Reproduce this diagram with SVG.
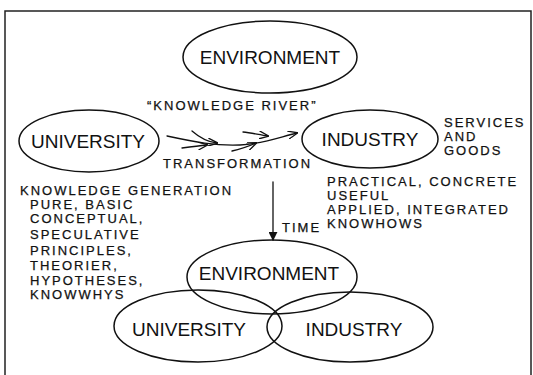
<svg xmlns="http://www.w3.org/2000/svg" width="533" height="375" viewBox="0 0 533 375">
  <defs>
    <style>
      .frame { fill: none; stroke: #222; stroke-width: 1.5; }
      .node { fill: none; stroke: #111; stroke-width: 1.5; }
      .label { font-family: "Liberation Sans", Arial, sans-serif; font-size: 19px; fill: #111; text-anchor: middle; }
      .txt { font-family: "Liberation Sans", Arial, sans-serif; font-size: 13px; letter-spacing: 2px; fill: #111; stroke: #111; stroke-width: 0.25; }
      .flow { fill: none; stroke: #111; stroke-width: 1.3; stroke-linecap: round; }
    </style>
    <marker id="vee" viewBox="0 0 10 8" refX="9" refY="4" markerWidth="10" markerHeight="8" markerUnits="userSpaceOnUse" orient="auto">
      <path d="M0,0 L10,4 L0,8" fill="none" stroke="#111" stroke-width="1.3"/>
    </marker>
    <marker id="head" viewBox="0 0 10 10" refX="9" refY="5" markerWidth="9" markerHeight="9" markerUnits="userSpaceOnUse" orient="auto">
      <path d="M0,0 L10,5 L0,10 Z" fill="#111"/>
    </marker>
  </defs>

  <rect width="533" height="375" fill="#fff"/>
  <!-- outer frame (open at the bottom) -->
  <path class="frame" d="M5,380 V11 H531 V380"/>

  <!-- nodes: the three parties -->
  <g id="env-top">
    <ellipse class="node" cx="270" cy="57" rx="87" ry="36"/>
    <text class="label" x="270" y="64">ENVIRONMENT</text>
  </g>
  <g id="univ-top">
    <ellipse class="node" cx="89" cy="141" rx="70" ry="31"/>
    <text class="label" x="88" y="148">UNIVERSITY</text>
  </g>
  <g id="ind-top">
    <ellipse class="node" cx="370" cy="139" rx="68" ry="29"/>
    <text class="label" x="370" y="146">INDUSTRY</text>
  </g>

  <!-- nodes: the merged future state -->
  <g id="env-bottom">
    <ellipse class="node" cx="272" cy="277" rx="85" ry="37"/>
    <text class="label" x="269" y="280">ENVIRONMENT</text>
  </g>
  <g id="univ-bottom">
    <ellipse class="node" cx="198" cy="326" rx="84" ry="36"/>
    <text class="label" x="189" y="336">UNIVERSITY</text>
  </g>
  <g id="ind-bottom">
    <ellipse class="node" cx="350" cy="327" rx="83" ry="35"/>
    <text class="label" x="354" y="336">INDUSTRY</text>
  </g>

  <!-- connectors: braided "knowledge river" and the time arrow -->
  <g id="connectors">
    <path class="flow" d="M167,136 C195,142 215,146 240,145 C262,144 280,137 297,133" marker-end="url(#vee)"/>
    <path class="flow" d="M192,131 C200,138 207,142 217,143" marker-end="url(#vee)"/>
    <path class="flow" d="M182,148 C190,147 198,146 207,145" marker-end="url(#vee)"/>
    <path class="flow" d="M243,132 C252,133 260,135 268,136" marker-end="url(#vee)"/>
    <path class="flow" d="M232,151 C241,149 249,146 256,143" marker-end="url(#vee)"/>
    <path class="flow" d="M273,182 V240" marker-end="url(#head)"/>
  </g>

  <!-- annotations -->
  <g id="notes">
    <text class="txt" x="147" y="110">“KNOWLEDGE RIVER”</text>
    <text class="txt" x="163" y="168">TRANSFORMATION</text>
    <text class="txt" x="444" y="127">SERVICES</text>
    <text class="txt" x="444" y="141">AND</text>
    <text class="txt" x="444" y="155">GOODS</text>
    <text class="txt" x="282" y="232">TIME</text>
    <text class="txt" x="327" y="186">PRACTICAL, CONCRETE</text>
    <text class="txt" x="327" y="200">USEFUL</text>
    <text class="txt" x="327" y="214">APPLIED, INTEGRATED</text>
    <text class="txt" x="327" y="228">KNOWHOWS</text>
    <text class="txt" x="20" y="195">KNOWLEDGE GENERATION</text>
    <text class="txt" x="30" y="209">PURE, BASIC</text>
    <text class="txt" x="30" y="223">CONCEPTUAL,</text>
    <text class="txt" x="30" y="239">SPECULATIVE</text>
    <text class="txt" x="30" y="255">PRINCIPLES,</text>
    <text class="txt" x="30" y="270">THEORIER,</text>
    <text class="txt" x="30" y="285">HYPOTHESES,</text>
    <text class="txt" x="30" y="299">KNOWWHYS</text>
  </g>
</svg>
